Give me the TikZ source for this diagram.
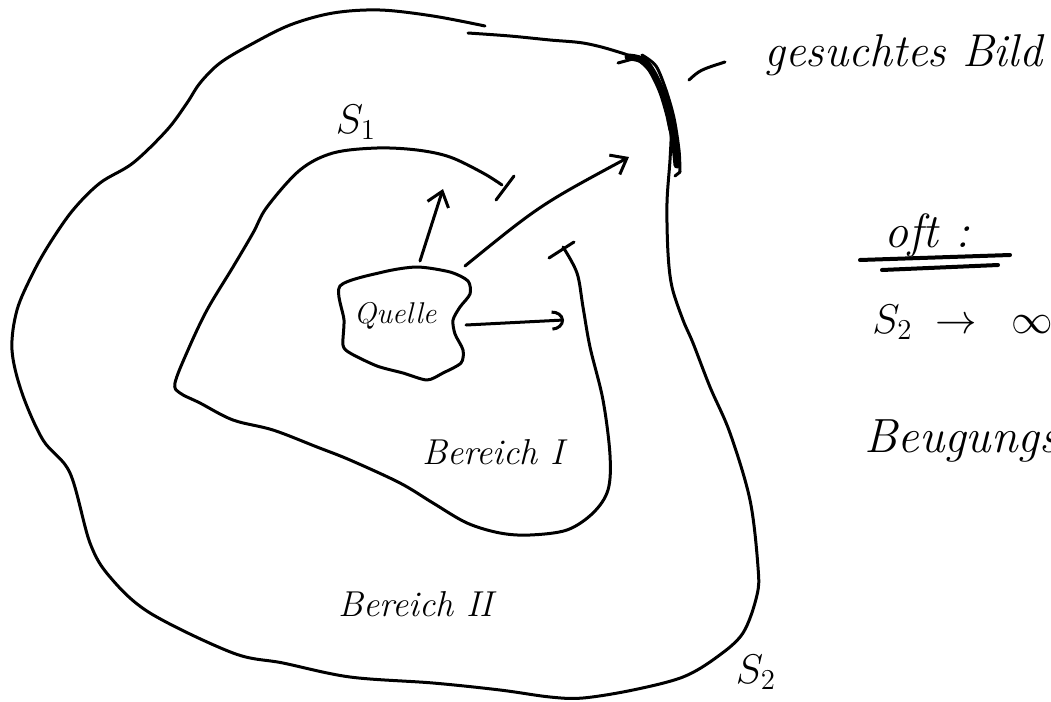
\documentclass[tikz,border=0pt]{standalone}
\usetikzlibrary{arrows.meta}
\begin{document}
\begin{tikzpicture}[x=0.5pt,y=-0.5pt,
  pen/.style={line width=1.5pt,line cap=round,line join=round},
  arr/.style={pen,-{Straight Barb[length=7pt,width=11pt]}},
  lbl/.style={font=\itshape, inner sep=0pt},
  curve/.style={pen, smooth, tension=0.55}
]
\useasboundingbox (0,0) rectangle (1051,702);
\begin{scope}
\clip (0,0) rectangle (1051,702);

% outer surface S2
\draw[pen] plot[smooth,tension=0.55] coordinates {
 (468,33) (510,36) (550,40) (583,43) (612,50) (638,60) (657,80) (667,105) (671,130) (670,160)
 (667,203) (668,253) (672,287) (683,320) (693,343) (710,387) (730,433) (750,500) (758,567)
 (757,595) (743,633) (717,657) (683,677) (633,690) (583,698) (550,697) (500,690) (433,683)
 (350,677) (283,663) (233,653) (150,613) (110,577) (90,543) (70,473) (43,440) (22,393)
 (12,350) (17,310) (33,273) (50,243) (73,210) (100,183) (133,163) (167,130) (187,103)
 (200,83) (220,63) (250,45) (290,25) (333,13) (380,10) (433,16) (485,26)};

% sought image (thick part)
\draw[line width=3.5pt,line cap=round] plot[smooth,tension=0.6] coordinates {
 (628,57) (645,62) (659,85) (668,112) (674,140) (677,165)};
\draw[pen] plot[smooth] coordinates {(642,55) (656,66) (666,90) (674,118) (679,150) (680,172)};
\draw[pen] (680,172) -- (675,176);
\draw[pen] (618,63) -- (640,57);
\draw[pen] (668,120) -- (670,130);

% inner surface S1
\draw[pen] plot[smooth,tension=0.55] coordinates {
 (502,185) (483,173) (450,157) (417,150) (377,148) (333,153) (300,170) (267,207) (253,233)
 (233,267) (207,310) (188,350) (175,383) (180,393) (200,403) (233,420) (273,430) (317,447)
 (350,460) (400,483) (433,503) (467,523) (500,533) (530,535) (567,530) (593,513) (608,490)
 (610,455) (603,400) (590,347) (583,307) (577,273) (563,247)};
\draw[pen] (496,200) -- (514,176);
\draw[pen] (549,258) -- (574,242);

% source
\node[lbl, font=\itshape\fontsize{15}{18}\selectfont] (quelle) at (395,316) {Quelle};
\draw[pen] plot[smooth cycle,tension=0.45] coordinates {
 (340,286) (383,272) (417,267) (450,272) (468,281) (470,294) (460,307) (453,320) (455,334)
 (463,350) (461,363) (443,373) (427,380) (403,373) (377,366) (350,353) (343,345) (344,320)};

% rays
\coordinate (qa) at (420,261);
\coordinate (ta) at (443,189);
\coordinate (qb) at (465,266);
\coordinate (tb) at (629,157);
\coordinate (qc) at (466,325);
\coordinate (tc) at (564,320);
\draw[arr] (qa) -- (ta);
\draw[arr] (qb) .. controls (540,205) .. (tb);
\draw[pen,-{Arc Barb[length=6pt,width=10pt]}] (qc) -- (tc);

% labels
\node[lbl, font=\itshape\fontsize{20}{24}\selectfont] (s1) at (356,122) {$S_{1}$};
\node[lbl, font=\itshape\fontsize{18}{22}\selectfont] (b1) at (493,452) {Bereich I};
\node[lbl, font=\itshape\fontsize{18}{22}\selectfont] (b2) at (416,604) {Bereich II};
\node[lbl, font=\itshape\fontsize{20}{24}\selectfont] (s2) at (756,672) {$S_{2}$};

\node[lbl, font=\itshape\fontsize{23}{28}\selectfont, anchor=base west] (bild) at (764,66) {gesuchtes Bild};
\coordinate (lead) at (689,80);
\draw[pen] (lead) .. controls (700,70) .. (725,62);

\node[lbl, font=\itshape\fontsize{24}{28}\selectfont, anchor=base west] (oft) at (884,247) {oft~:};
\draw[line width=2pt,line cap=round] (860,260) -- (1010,255);
\draw[line width=2pt,line cap=round] (882,270) -- (998,265);

\node[lbl, font=\fontsize{22}{26}\selectfont, anchor=base west] (lim) at (872,333) {$S_{2}\;\to\;\;\infty$};
\node[lbl, font=\itshape\fontsize{24}{28}\selectfont, anchor=base west] (beug) at (864,452) {Beugungsproblem};
\end{scope}
\end{tikzpicture}
\end{document}
